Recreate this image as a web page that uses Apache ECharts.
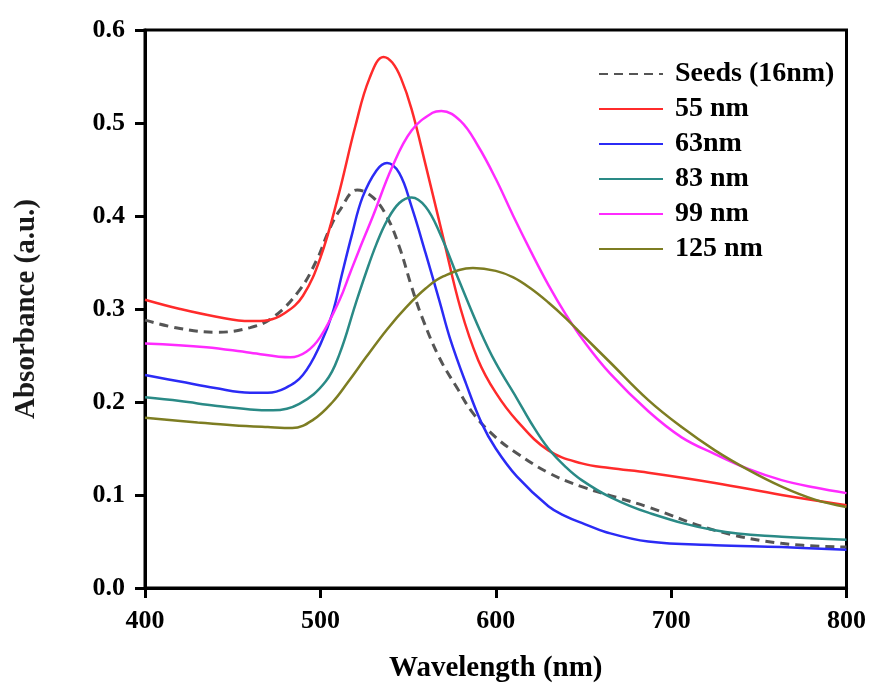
<!DOCTYPE html>
<html>
<head>
<meta charset="utf-8">
<title>Absorbance spectra</title>
<script src="https://cdn.jsdelivr.net/npm/echarts@6/dist/echarts.min.js"></script>
<style>
  html, body { margin: 0; padding: 0; background: #fff; }
  #chart { width: 869px; height: 689px; }
</style>
</head>
<body>
<div id="chart"></div>
<script>
// series names as in the legend
const seriesNames = ['Seeds (16nm)', '55 nm', '63nm', '83 nm', '99 nm', '125 nm'];

// wavelength (nm) / absorbance
const wlSeeds = [400, 420, 441, 460, 473, 488, 498, 505, 511, 521, 530, 538, 545, 552, 558, 568, 578, 587, 600, 612, 630, 649, 668, 687, 725, 763, 800];
const absSeeds = [0.288, 0.279, 0.275, 0.280, 0.291, 0.320, 0.353, 0.385, 0.406, 0.428, 0.420, 0.399, 0.367, 0.324, 0.291, 0.247, 0.215, 0.188, 0.162, 0.145, 0.124, 0.109, 0.098, 0.087, 0.062, 0.048, 0.044];

const wl55 = [400, 420, 440, 460, 470, 480, 490, 500, 510, 520, 528, 536, 541, 546, 552, 560, 570, 580, 590, 600, 612, 630, 649, 665, 687, 725, 763, 800];
const abs55 = [0.310, 0.300, 0.292, 0.287, 0.288, 0.296, 0.314, 0.355, 0.420, 0.497, 0.548, 0.571, 0.565, 0.548, 0.515, 0.455, 0.377, 0.300, 0.245, 0.210, 0.180, 0.148, 0.134, 0.129, 0.124, 0.113, 0.100, 0.089];

const wl63 = [400, 420, 440, 460, 470, 480, 490, 500, 507, 512, 518, 524, 532, 538, 545, 552, 560, 568, 574, 583, 592, 600, 612, 630, 640, 649, 663, 687, 725, 763, 800];
const abs63 = [0.229, 0.222, 0.215, 0.210, 0.210, 0.215, 0.229, 0.262, 0.296, 0.335, 0.380, 0.420, 0.449, 0.457, 0.446, 0.410, 0.360, 0.308, 0.268, 0.220, 0.177, 0.150, 0.120, 0.088, 0.077, 0.070, 0.060, 0.050, 0.046, 0.044, 0.041];

const wl83 = [400, 420, 440, 460, 473, 488, 503, 511, 520, 526, 532, 538, 545, 552, 560, 568, 579, 591, 600, 612, 620, 630, 640, 649, 665, 687, 725, 763, 800];
const abs83 = [0.205, 0.201, 0.196, 0.192, 0.191, 0.198, 0.222, 0.252, 0.305, 0.339, 0.370, 0.395, 0.414, 0.420, 0.410, 0.382, 0.331, 0.277, 0.242, 0.204, 0.178, 0.150, 0.130, 0.116, 0.098, 0.081, 0.062, 0.055, 0.052];

const wl99 = [400, 435, 460, 483, 492, 500, 511, 517, 522, 530, 541, 552, 564, 569, 580, 590, 600, 610, 620, 630, 640, 650, 665, 687, 706, 725, 744, 763, 782, 800];
const abs99 = [0.263, 0.259, 0.253, 0.248, 0.254, 0.270, 0.310, 0.339, 0.363, 0.400, 0.453, 0.492, 0.511, 0.513, 0.502, 0.475, 0.440, 0.400, 0.362, 0.326, 0.294, 0.266, 0.231, 0.190, 0.162, 0.144, 0.128, 0.116, 0.108, 0.102];

const wl125 = [400, 430, 450, 470, 484, 496, 507, 516, 526, 538, 549, 560, 570, 587, 600, 610, 620, 630, 640, 650, 665, 687, 706, 725, 744, 763, 782, 800];
const abs125 = [0.183, 0.178, 0.175, 0.173, 0.172, 0.181, 0.200, 0.222, 0.248, 0.278, 0.302, 0.322, 0.335, 0.344, 0.341, 0.334, 0.322, 0.307, 0.290, 0.271, 0.243, 0.202, 0.173, 0.148, 0.127, 0.109, 0.095, 0.087];

const xTicks = [400, 500, 600, 700, 800];
const yTicks = [0, 0.1, 0.2, 0.3, 0.4, 0.5, 0.6];

const colors = ['#555555', '#ff2b2b', '#2b2bf5', '#2a8a86', '#ff2bff', '#7d7d22'];

const FONT = '"Liberation Serif", "Times New Roman", serif';

function pairs(xs, ys) {
  return xs.map((x, i) => [x, ys[i]]);
}

const allData = [
  pairs(wlSeeds, absSeeds),
  pairs(wl55, abs55),
  pairs(wl63, abs63),
  pairs(wl83, abs83),
  pairs(wl99, abs99),
  pairs(wl125, abs125),
];

const chart = echarts.init(document.getElementById('chart'), null, { renderer: 'canvas' });

const option = {
  backgroundColor: '#fff',
  animation: false,
  grid: {
    left: 145,
    right: 21,
    top: 30,
    bottom: 101,
    show: true,
    borderColor: '#000',
    borderWidth: 3,
    backgroundColor: 'transparent',
  },
  legend: {
    orient: 'vertical',
    left: 593,
    top: 54,
    itemWidth: 64,
    itemHeight: 14,
    itemGap: 5,
    data: seriesNames,
    // hide the circle ECharts puts on line legend icons
    itemStyle: { opacity: 0 },
    textStyle: {
      fontFamily: FONT,
      fontWeight: 'bold',
      fontSize: 28,
      lineHeight: 30,
      color: '#000',
      padding: [0, 0, 0, 7],
    },
  },
  xAxis: {
    type: 'value',
    min: xTicks[0],
    max: xTicks[xTicks.length - 1],
    interval: 100,
    name: 'Wavelength (nm)',
    nameLocation: 'middle',
    nameGap: 66,
    nameTextStyle: { fontFamily: FONT, fontWeight: 'bold', fontSize: 29, color: '#000' },
    axisLine: { show: true, onZero: false, lineStyle: { color: '#000', width: 3 } },
    axisTick: { show: true, length: 10, lineStyle: { color: '#000', width: 3 } },
    axisLabel: {
      margin: 20,
      fontFamily: FONT,
      fontWeight: 'bold',
      fontSize: 26,
      color: '#000',
      showMinLabel: true,
      showMaxLabel: true,
    },
    splitLine: { show: false },
  },
  yAxis: {
    type: 'value',
    min: yTicks[0],
    max: yTicks[yTicks.length - 1],
    interval: 0.1,
    name: 'Absorbance (a.u.)',
    nameLocation: 'middle',
    nameGap: 104,
    nameTextStyle: { fontFamily: FONT, fontWeight: 'bold', fontSize: 29, color: '#1a1a1a' },
    axisLine: { show: true, onZero: false, lineStyle: { color: '#000', width: 3 } },
    axisTick: { show: true, length: 10, lineStyle: { color: '#000', width: 3 } },
    axisLabel: {
      margin: 20,
      fontFamily: FONT,
      fontWeight: 'bold',
      fontSize: 26,
      color: '#000',
      formatter: (v) => v.toFixed(1),
    },
    splitLine: { show: false },
  },
  series: seriesNames.map((name, i) => ({
    name: name,
    type: 'line',
    data: allData[i],
    smooth: 0.4,
    symbol: 'none',
    z: i === 0 ? 1 : 2,
    itemStyle: { color: colors[i] },
    lineStyle: {
      color: colors[i],
      width: i === 0 ? 3 : 2.5,
      type: i === 0 ? [9, 6] : 'solid',
    },
  })),
};

chart.setOption(option);
</script>
</body>
</html>
